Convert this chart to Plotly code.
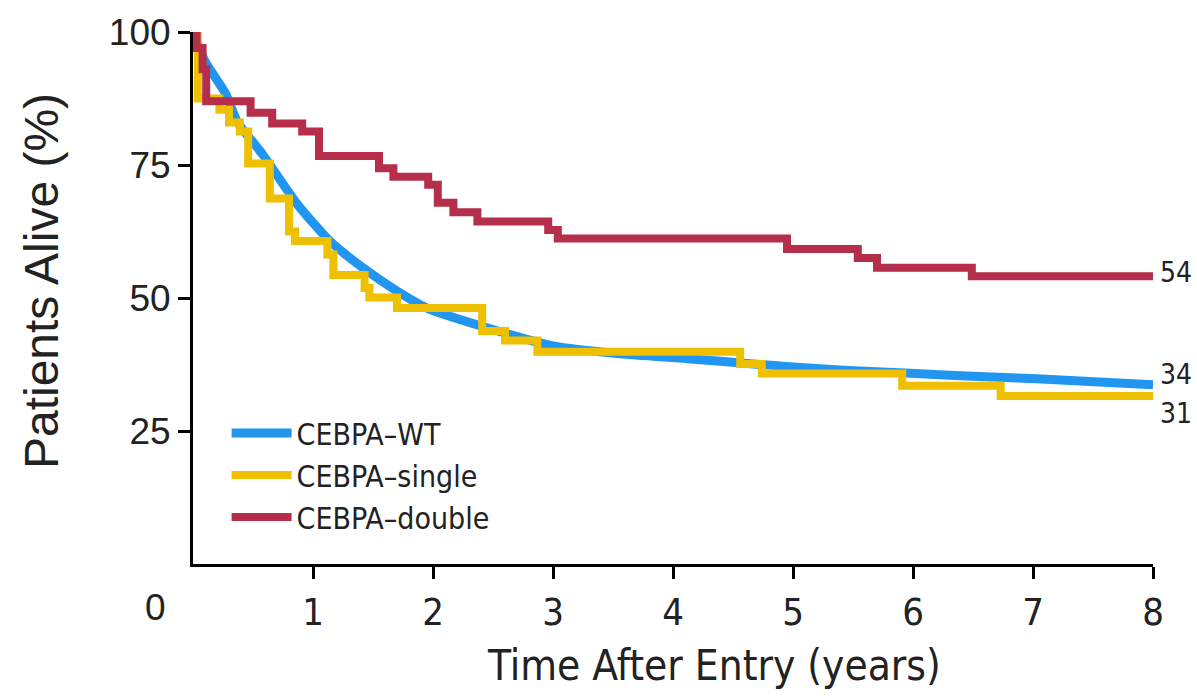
import plotly.graph_objects as go

# ---- data ----
t_wt = [0, 0.1, 0.27, 0.37, 0.58, 0.87, 1.14, 1.42, 1.7, 1.95, 2.45, 3.0, 3.56, 4.12, 4.67, 5.22, 5.55, 6.39, 7.03, 8.0]
s_wt = [100, 94.5, 88.5, 83.1, 77, 67.6, 60.7, 55.6, 51.3, 48.1, 44.4, 41, 39.5, 38.6, 37.6, 36.7, 36.3, 35.4, 34.8, 33.7]

t_single = [0, 0.04, 0.22, 0.3, 0.39, 0.46, 0.64, 0.8, 0.85, 1.12, 1.17, 1.43, 1.47, 1.7, 2.41, 2.6, 2.87, 4.56, 4.74, 5.91, 6.73, 8.0]
s_single = [100, 87.5, 85.4, 83, 81.3, 75.3, 68.7, 62.5, 60.7, 58.2, 54.3, 51.9, 50.1, 48.1, 43.8, 42, 39.9, 37.6, 35.8, 33.5, 31.6, 31.6]

t_double = [0, 0.03, 0.08, 0.11, 0.48, 0.66, 0.91, 1.05, 1.55, 1.67, 1.96, 2.04, 2.17, 2.37, 2.96, 3.04, 4.95, 5.54, 5.7, 6.49, 8.0]
s_double = [100, 97, 93, 87, 84.8, 82.8, 81.3, 76.7, 74.4, 72.8, 71.3, 67.9, 66.1, 64.4, 62.8, 61.2, 59.2, 57.5, 55.7, 54.1, 54.1]

series_names = ["CEBPA–WT", "CEBPA–single", "CEBPA–double"]
end_labels = ["34", "31", "54"]
y_ticks = [25, 50, 75, 100]
x_ticks = [1, 2, 3, 4, 5, 6, 7, 8]

colors = ["#2196F0", "#EEC000", "#B52E4A"]
NARROW = "Liberation Sans Narrow, Arial Narrow, DejaVu Sans Condensed, sans-serif"
REG = "Liberation Sans, Arial, sans-serif"

fig = go.Figure()
fig.add_trace(go.Scatter(x=t_wt, y=s_wt, mode="lines", name=series_names[0],
                         line=dict(color=colors[0], width=9, shape="spline", smoothing=0.6)))
fig.add_trace(go.Scatter(x=t_single, y=s_single, mode="lines", name=series_names[1],
                         line=dict(color=colors[1], width=8, shape="hv")))
fig.add_trace(go.Scatter(x=t_double, y=s_double, mode="lines", name=series_names[2],
                         line=dict(color=colors[2], width=8, shape="hv")))

# end labels
ends = [(t_wt[-1], s_wt[-1], end_labels[0], 10),
        (t_single[-1], s_single[-1], end_labels[1], -18),
        (t_double[-1], s_double[-1], end_labels[2], 4)]
annotations = []
for x, y, txt, ys in ends:
    annotations.append(dict(x=x, y=y, xref="x", yref="y", text=txt, showarrow=False,
                            xanchor="left", yanchor="middle", xshift=5, yshift=ys,
                            font=dict(family=NARROW, size=28, color="#222")))
# origin "0" label
annotations.append(dict(x=0, y=0, xref="x", yref="y", text="0", showarrow=False,
                        xanchor="center", yanchor="middle", xshift=-38, yshift=-43,
                        font=dict(family=REG, size=37, color="#222")))
# axis titles
annotations.append(dict(x=(714 - 193) / 960, y=0, xref="paper", yref="paper",
                        text="Time After Entry (years)", showarrow=False,
                        xanchor="center", yanchor="middle", yshift=-101,
                        font=dict(family=NARROW, size=42, color="#222")))
annotations.append(dict(x=0, y=(564 - 280) / 534, xref="paper", yref="paper",
                        text="Patients Alive (%)", showarrow=False, textangle=-90,
                        xanchor="center", yanchor="middle", xshift=-152,
                        font=dict(family=REG, size=48, color="#222")))

fig.update_layout(
    width=1197, height=696,
    margin=dict(l=193, r=44, t=30, b=132),
    paper_bgcolor="white", plot_bgcolor="white",
    showlegend=True,
    legend=dict(x=0.035, y=0.295, xanchor="left", yanchor="top",
                bgcolor="rgba(0,0,0,0)", itemwidth=60,
                font=dict(family=NARROW, size=30, color="#222"),
                tracegroupgap=0),
    annotations=annotations,
)
fig.update_xaxes(range=[0, 8], tickvals=x_ticks, ticktext=[str(v) for v in x_ticks],
                 showgrid=False, zeroline=False, showline=True, linecolor="black", linewidth=3,
                 ticks="outside", ticklen=12, tickwidth=3, tickcolor="black",
                 tickfont=dict(family=NARROW, size=38, color="#222"))
fig.update_yaxes(range=[0, 100], tickvals=y_ticks, ticktext=[str(v) for v in y_ticks],
                 showgrid=False, zeroline=False, showline=True, linecolor="black", linewidth=3,
                 ticks="outside", ticklen=12, tickwidth=3, tickcolor="black",
                 tickfont=dict(family=REG, size=37, color="#222"))

fig.write_html("out.html")
